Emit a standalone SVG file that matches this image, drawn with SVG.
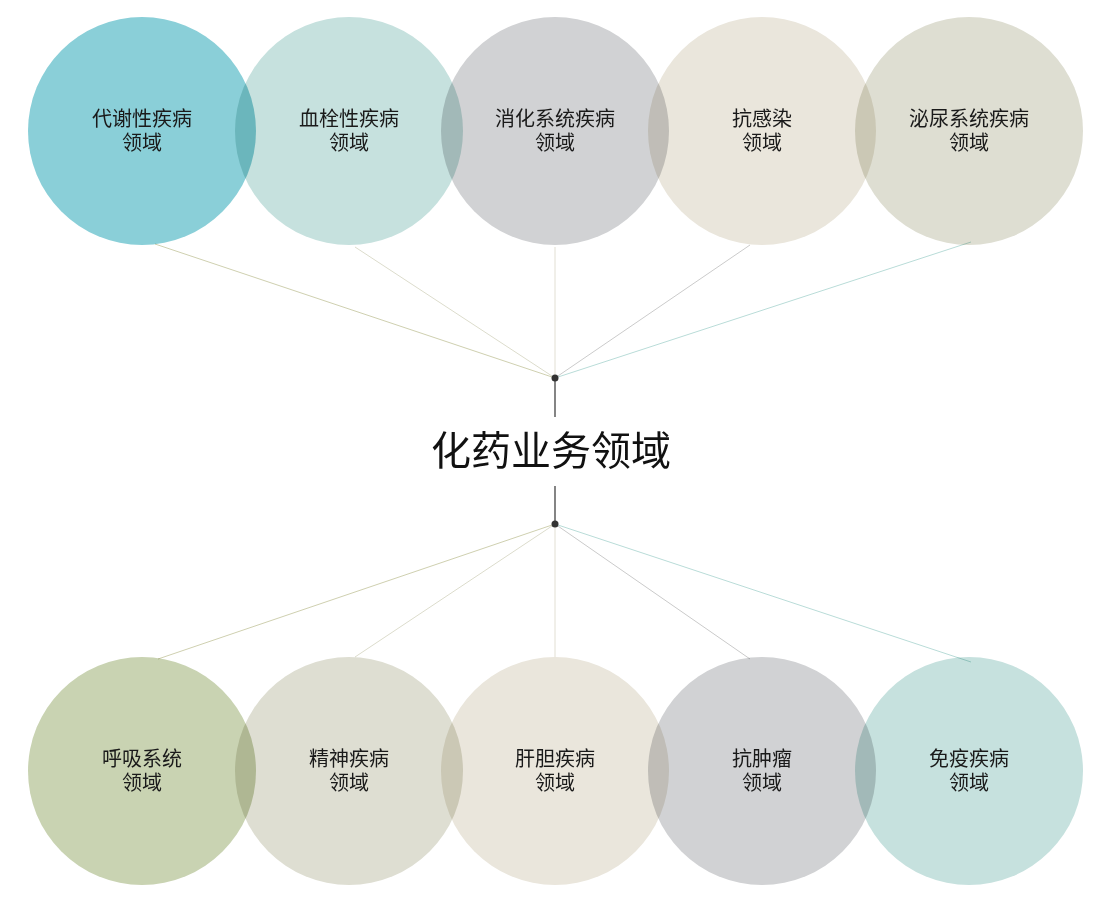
<svg xmlns="http://www.w3.org/2000/svg" width="1100" height="900" viewBox="0 0 1100 900">
<style>
.c{mix-blend-mode:multiply}
.lbl{font-family:"Liberation Sans","Noto Sans CJK SC",sans-serif;font-size:20px;fill:#1a1a1a;text-anchor:middle}
.title{font-family:"Liberation Sans","Noto Sans CJK SC",sans-serif;font-size:40px;fill:#111;text-anchor:middle}
.ln{stroke-width:1;fill:none}
.stem{stroke:#333;stroke-width:1.2}
</style>
<rect width="1100" height="900" fill="#fff"/>
<g id="connectors">
  <line class="ln" x1="155" y1="244" x2="555" y2="378" stroke="#cfd0b0"/>
  <line class="ln" x1="355" y1="247" x2="555" y2="378" stroke="#dcdccc"/>
  <line class="ln" x1="555" y1="247" x2="555" y2="378" stroke="#e2dfd3"/>
  <line class="ln" x1="750" y1="245" x2="555" y2="378" stroke="#cbcbcb"/>
  <line class="ln" x1="971" y1="242" x2="555" y2="378" stroke="#b9dcd8"/>
  <line class="stem" x1="555" y1="378" x2="555" y2="417"/>
  <circle cx="555" cy="378" r="3.5" fill="#333"/>
  <line class="ln" x1="555" y1="524" x2="158" y2="659" stroke="#cfd0b0"/>
  <line class="ln" x1="555" y1="524" x2="355" y2="657" stroke="#dcdccc"/>
  <line class="ln" x1="555" y1="524" x2="555" y2="657" stroke="#e2dfd3"/>
  <line class="ln" x1="555" y1="524" x2="750" y2="659" stroke="#cbcbcb"/>
  <line class="ln" x1="555" y1="524" x2="971" y2="662" stroke="#b9dcd8"/>
  <line class="stem" x1="555" y1="486" x2="555" y2="524"/>
  <circle cx="555" cy="524" r="3.5" fill="#333"/>
</g>
<g id="title"><text class="title" x="551" y="465">化药业务领域</text></g>
<g id="n1"><circle class="c" cx="142" cy="131" r="114" fill="#8acfd8"/><text class="lbl" x="142" y="126">代谢性疾病</text><text class="lbl" x="142" y="150">领域</text></g>
<g id="n2"><circle class="c" cx="349" cy="131" r="114" fill="#c6e1de"/><text class="lbl" x="349" y="126">血栓性疾病</text><text class="lbl" x="349" y="150">领域</text></g>
<g id="n3"><circle class="c" cx="555" cy="131" r="114" fill="#d1d2d4"/><text class="lbl" x="555" y="126">消化系统疾病</text><text class="lbl" x="555" y="150">领域</text></g>
<g id="n4"><circle class="c" cx="762" cy="131" r="114" fill="#eae6dc"/><text class="lbl" x="762" y="126">抗感染</text><text class="lbl" x="762" y="150">领域</text></g>
<g id="n5"><circle class="c" cx="969" cy="131" r="114" fill="#deded2"/><text class="lbl" x="969" y="126">泌尿系统疾病</text><text class="lbl" x="969" y="150">领域</text></g>
<g id="n6"><circle class="c" cx="142" cy="771" r="114" fill="#c9d3b2"/><text class="lbl" x="142" y="766">呼吸系统</text><text class="lbl" x="142" y="790">领域</text></g>
<g id="n7"><circle class="c" cx="349" cy="771" r="114" fill="#deded2"/><text class="lbl" x="349" y="766">精神疾病</text><text class="lbl" x="349" y="790">领域</text></g>
<g id="n8"><circle class="c" cx="555" cy="771" r="114" fill="#eae6dc"/><text class="lbl" x="555" y="766">肝胆疾病</text><text class="lbl" x="555" y="790">领域</text></g>
<g id="n9"><circle class="c" cx="762" cy="771" r="114" fill="#d1d2d4"/><text class="lbl" x="762" y="766">抗肿瘤</text><text class="lbl" x="762" y="790">领域</text></g>
<g id="n10"><circle class="c" cx="969" cy="771" r="114" fill="#c6e1de"/><text class="lbl" x="969" y="766">免疫疾病</text><text class="lbl" x="969" y="790">领域</text></g>
</svg>
